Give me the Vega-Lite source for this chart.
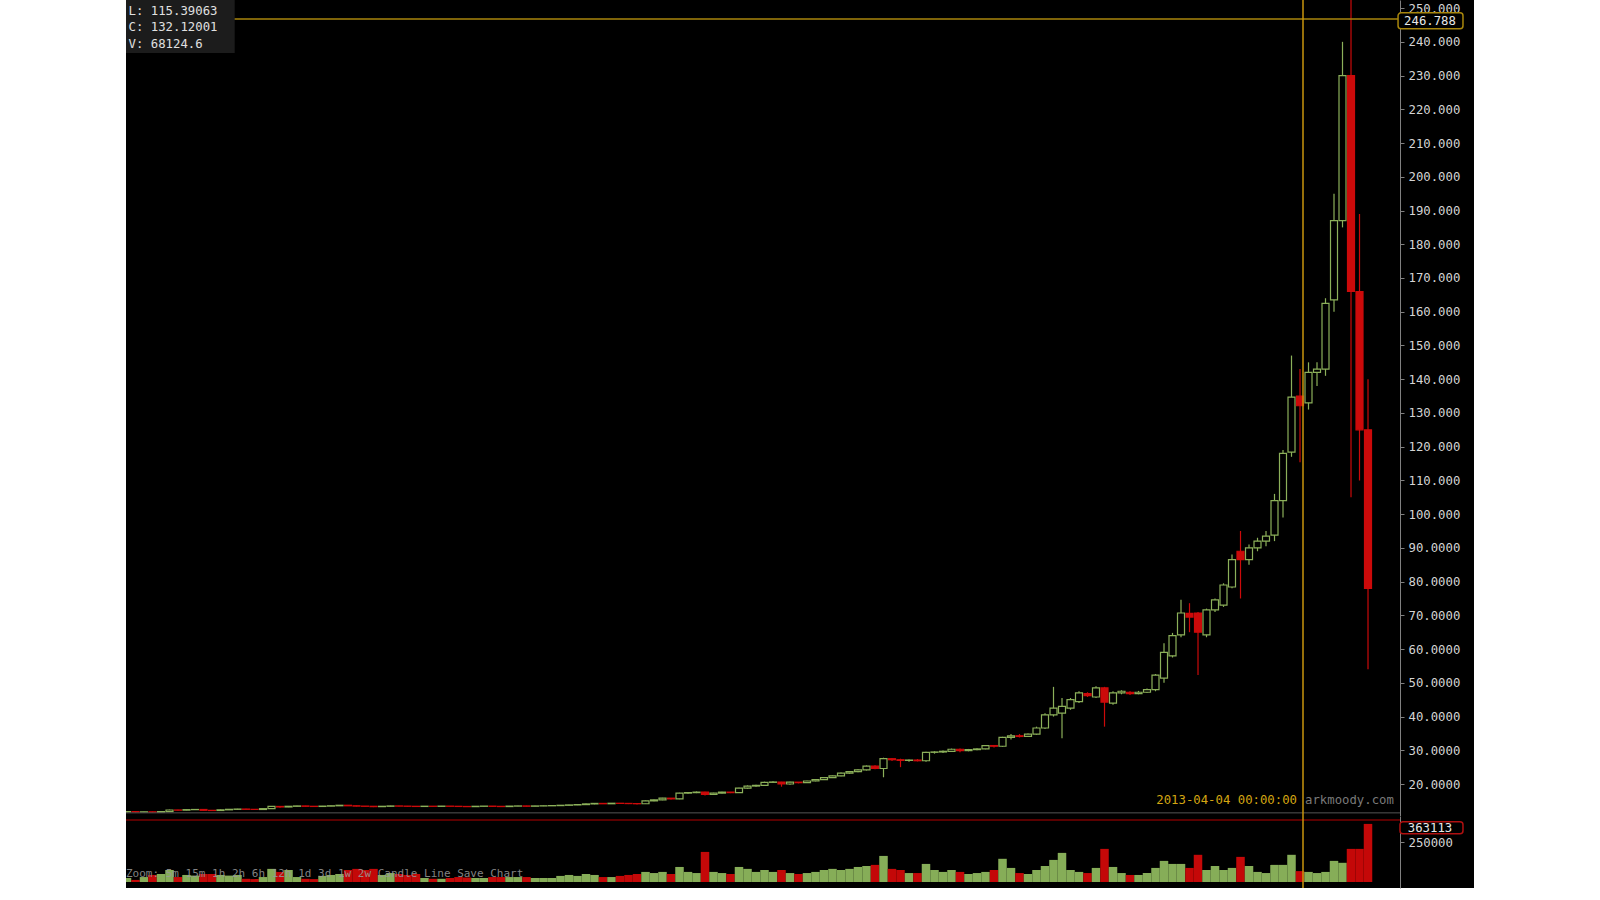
{
"$schema": "https://vega.github.io/schema/vega-lite/v6.json",
"background": "white",
"padding": {"left": 126, "right": 126, "top": 0, "bottom": 12},
"bounds": "flush",
"config": {"view": {"fill": "black", "stroke": null},
"axis": {"labelOverlap": false, "labelBound": false, "labelFlush": false, "grid": false, "title": null,
"labelFont": "DejaVu Sans Mono", "labelFontSize": 12.3, "labelColor": "#d4d4d4",
"domainColor": "#808080", "tickColor": "#808080", "tickSize": 4, "labelPadding": 4}},
"spacing": 0,
"datasets": {
"one": [{}],
"k": [
{"d":"2012-11-17","o":11.75,"h":11.85,"l":11.65,"c":11.80,"v":25000},
{"d":"2012-11-18","o":11.80,"h":11.85,"l":11.60,"c":11.70,"v":13000},
{"d":"2012-11-19","o":11.70,"h":11.80,"l":11.65,"c":11.76,"v":31000},
{"d":"2012-11-20","o":11.76,"h":11.80,"l":11.55,"c":11.68,"v":44000},
{"d":"2012-11-21","o":11.68,"h":11.85,"l":11.62,"c":11.80,"v":50000},
{"d":"2012-11-22","o":11.80,"h":12.40,"l":11.75,"c":12.30,"v":75000},
{"d":"2012-11-23","o":12.30,"h":12.40,"l":12.15,"c":12.25,"v":31000},
{"d":"2012-11-24","o":12.25,"h":12.45,"l":12.20,"c":12.40,"v":44000},
{"d":"2012-11-25","o":12.40,"h":12.50,"l":12.30,"c":12.45,"v":40000},
{"d":"2012-11-26","o":12.45,"h":12.50,"l":12.10,"c":12.20,"v":50000},
{"d":"2012-11-27","o":12.20,"h":12.30,"l":12.00,"c":12.15,"v":50000},
{"d":"2012-11-28","o":12.15,"h":12.45,"l":12.10,"c":12.35,"v":44000},
{"d":"2012-11-29","o":12.35,"h":12.55,"l":12.30,"c":12.50,"v":40000},
{"d":"2012-11-30","o":12.50,"h":12.65,"l":12.40,"c":12.58,"v":44000},
{"d":"2012-12-01","o":12.58,"h":12.65,"l":12.45,"c":12.50,"v":20000},
{"d":"2012-12-02","o":12.50,"h":12.55,"l":12.35,"c":12.45,"v":18000},
{"d":"2012-12-03","o":12.45,"h":12.75,"l":12.40,"c":12.70,"v":31000},
{"d":"2012-12-04","o":12.70,"h":13.45,"l":12.65,"c":13.35,"v":82000},
{"d":"2012-12-05","o":13.35,"h":13.40,"l":13.00,"c":13.20,"v":63000},
{"d":"2012-12-06","o":13.20,"h":13.45,"l":13.15,"c":13.40,"v":75000},
{"d":"2012-12-07","o":13.40,"h":13.55,"l":13.35,"c":13.50,"v":31000},
{"d":"2012-12-08","o":13.50,"h":13.55,"l":13.30,"c":13.40,"v":20000},
{"d":"2012-12-09","o":13.40,"h":13.45,"l":13.25,"c":13.35,"v":18000},
{"d":"2012-12-10","o":13.35,"h":13.50,"l":13.30,"c":13.45,"v":38000},
{"d":"2012-12-11","o":13.45,"h":13.60,"l":13.40,"c":13.55,"v":44000},
{"d":"2012-12-12","o":13.55,"h":13.75,"l":13.50,"c":13.70,"v":50000},
{"d":"2012-12-13","o":13.70,"h":13.72,"l":13.45,"c":13.55,"v":75000},
{"d":"2012-12-14","o":13.55,"h":13.60,"l":13.35,"c":13.45,"v":82000},
{"d":"2012-12-15","o":13.45,"h":13.50,"l":13.30,"c":13.40,"v":75000},
{"d":"2012-12-16","o":13.40,"h":13.45,"l":13.15,"c":13.30,"v":82000},
{"d":"2012-12-17","o":13.30,"h":13.45,"l":13.25,"c":13.40,"v":44000},
{"d":"2012-12-18","o":13.40,"h":13.55,"l":13.35,"c":13.50,"v":56000},
{"d":"2012-12-19","o":13.50,"h":13.55,"l":13.35,"c":13.45,"v":50000},
{"d":"2012-12-20","o":13.45,"h":13.50,"l":13.30,"c":13.40,"v":44000},
{"d":"2012-12-21","o":13.40,"h":13.45,"l":13.25,"c":13.35,"v":50000},
{"d":"2012-12-22","o":13.35,"h":13.45,"l":13.30,"c":13.42,"v":25000},
{"d":"2012-12-23","o":13.42,"h":13.45,"l":13.30,"c":13.38,"v":20000},
{"d":"2012-12-24","o":13.38,"h":13.50,"l":13.35,"c":13.45,"v":20000},
{"d":"2012-12-25","o":13.45,"h":13.48,"l":13.30,"c":13.40,"v":25000},
{"d":"2012-12-26","o":13.40,"h":13.42,"l":13.25,"c":13.35,"v":31000},
{"d":"2012-12-27","o":13.35,"h":13.40,"l":13.20,"c":13.30,"v":28000},
{"d":"2012-12-28","o":13.30,"h":13.45,"l":13.28,"c":13.40,"v":25000},
{"d":"2012-12-29","o":13.40,"h":13.50,"l":13.35,"c":13.45,"v":25000},
{"d":"2012-12-30","o":13.45,"h":13.48,"l":13.30,"c":13.38,"v":31000},
{"d":"2012-12-31","o":13.38,"h":13.42,"l":13.25,"c":13.32,"v":31000},
{"d":"2013-01-01","o":13.32,"h":13.50,"l":13.30,"c":13.45,"v":31000},
{"d":"2013-01-02","o":13.45,"h":13.55,"l":13.40,"c":13.50,"v":31000},
{"d":"2013-01-03","o":13.50,"h":13.55,"l":13.35,"c":13.42,"v":31000},
{"d":"2013-01-04","o":13.42,"h":13.55,"l":13.40,"c":13.50,"v":25000},
{"d":"2013-01-05","o":13.50,"h":13.60,"l":13.45,"c":13.55,"v":25000},
{"d":"2013-01-06","o":13.55,"h":13.65,"l":13.50,"c":13.60,"v":25000},
{"d":"2013-01-07","o":13.60,"h":13.75,"l":13.55,"c":13.70,"v":38000},
{"d":"2013-01-08","o":13.70,"h":13.85,"l":13.65,"c":13.80,"v":44000},
{"d":"2013-01-09","o":13.80,"h":13.95,"l":13.75,"c":13.90,"v":38000},
{"d":"2013-01-10","o":13.90,"h":14.20,"l":13.85,"c":14.10,"v":50000},
{"d":"2013-01-11","o":14.10,"h":14.30,"l":14.00,"c":14.25,"v":44000},
{"d":"2013-01-12","o":14.25,"h":14.30,"l":14.05,"c":14.15,"v":31000},
{"d":"2013-01-13","o":14.15,"h":14.35,"l":14.10,"c":14.30,"v":31000},
{"d":"2013-01-14","o":14.30,"h":14.40,"l":14.15,"c":14.25,"v":38000},
{"d":"2013-01-15","o":14.25,"h":14.30,"l":14.05,"c":14.20,"v":44000},
{"d":"2013-01-16","o":14.20,"h":14.25,"l":13.95,"c":14.15,"v":50000},
{"d":"2013-01-17","o":14.15,"h":15.10,"l":14.10,"c":15.00,"v":63000},
{"d":"2013-01-18","o":15.00,"h":15.40,"l":14.90,"c":15.30,"v":56000},
{"d":"2013-01-19","o":15.30,"h":15.90,"l":15.20,"c":15.80,"v":63000},
{"d":"2013-01-20","o":15.80,"h":15.85,"l":15.40,"c":15.60,"v":50000},
{"d":"2013-01-21","o":15.60,"h":17.40,"l":15.50,"c":17.30,"v":94000},
{"d":"2013-01-22","o":17.30,"h":17.60,"l":17.10,"c":17.45,"v":63000},
{"d":"2013-01-23","o":17.45,"h":17.80,"l":17.30,"c":17.60,"v":56000},
{"d":"2013-01-24","o":17.60,"h":17.70,"l":16.60,"c":16.90,"v":188000},
{"d":"2013-01-25","o":16.90,"h":17.40,"l":16.80,"c":17.30,"v":63000},
{"d":"2013-01-26","o":17.30,"h":17.70,"l":17.20,"c":17.60,"v":56000},
{"d":"2013-01-27","o":17.60,"h":17.65,"l":17.30,"c":17.45,"v":50000},
{"d":"2013-01-28","o":17.45,"h":18.90,"l":17.40,"c":18.80,"v":94000},
{"d":"2013-01-29","o":18.80,"h":19.60,"l":18.60,"c":19.40,"v":82000},
{"d":"2013-01-30","o":19.40,"h":19.80,"l":19.20,"c":19.60,"v":63000},
{"d":"2013-01-31","o":19.60,"h":20.70,"l":19.50,"c":20.50,"v":75000},
{"d":"2013-02-01","o":20.50,"h":20.80,"l":20.30,"c":20.60,"v":63000},
{"d":"2013-02-02","o":20.60,"h":20.65,"l":19.20,"c":20.00,"v":75000},
{"d":"2013-02-03","o":20.00,"h":20.70,"l":19.80,"c":20.55,"v":56000},
{"d":"2013-02-04","o":20.55,"h":20.60,"l":20.20,"c":20.40,"v":50000},
{"d":"2013-02-05","o":20.40,"h":21.00,"l":20.30,"c":20.90,"v":56000},
{"d":"2013-02-06","o":20.90,"h":21.40,"l":20.80,"c":21.30,"v":63000},
{"d":"2013-02-07","o":21.30,"h":22.00,"l":21.20,"c":21.90,"v":75000},
{"d":"2013-02-08","o":21.90,"h":22.50,"l":21.80,"c":22.40,"v":82000},
{"d":"2013-02-09","o":22.40,"h":23.40,"l":22.30,"c":23.20,"v":75000},
{"d":"2013-02-10","o":23.20,"h":23.80,"l":23.00,"c":23.70,"v":82000},
{"d":"2013-02-11","o":23.70,"h":24.40,"l":23.50,"c":24.20,"v":94000},
{"d":"2013-02-12","o":24.20,"h":25.50,"l":24.00,"c":25.30,"v":100000},
{"d":"2013-02-13","o":25.30,"h":25.60,"l":24.40,"c":24.60,"v":107000},
{"d":"2013-02-14","o":24.60,"h":27.80,"l":22.00,"c":27.50,"v":163000},
{"d":"2013-02-15","o":27.50,"h":27.70,"l":26.80,"c":27.20,"v":82000},
{"d":"2013-02-16","o":27.20,"h":27.50,"l":25.00,"c":27.00,"v":75000},
{"d":"2013-02-17","o":27.00,"h":27.30,"l":26.60,"c":27.10,"v":56000},
{"d":"2013-02-18","o":27.10,"h":27.40,"l":26.70,"c":26.90,"v":56000},
{"d":"2013-02-19","o":26.90,"h":29.60,"l":26.60,"c":29.40,"v":113000},
{"d":"2013-02-20","o":29.40,"h":29.70,"l":29.00,"c":29.50,"v":75000},
{"d":"2013-02-21","o":29.50,"h":29.90,"l":29.20,"c":29.70,"v":63000},
{"d":"2013-02-22","o":29.70,"h":30.50,"l":29.50,"c":30.30,"v":75000},
{"d":"2013-02-23","o":30.30,"h":30.50,"l":29.40,"c":29.90,"v":63000},
{"d":"2013-02-24","o":29.90,"h":30.40,"l":29.70,"c":30.20,"v":50000},
{"d":"2013-02-25","o":30.20,"h":30.60,"l":30.00,"c":30.40,"v":56000},
{"d":"2013-02-26","o":30.40,"h":31.50,"l":30.30,"c":31.40,"v":63000},
{"d":"2013-02-27","o":31.40,"h":31.60,"l":30.80,"c":31.20,"v":75000},
{"d":"2013-02-28","o":31.20,"h":34.00,"l":31.00,"c":33.80,"v":145000},
{"d":"2013-03-01","o":33.80,"h":34.80,"l":33.20,"c":34.30,"v":88000},
{"d":"2013-03-02","o":34.30,"h":34.80,"l":33.80,"c":34.10,"v":56000},
{"d":"2013-03-03","o":34.10,"h":35.00,"l":34.00,"c":34.80,"v":50000},
{"d":"2013-03-04","o":34.80,"h":37.00,"l":34.60,"c":36.60,"v":75000},
{"d":"2013-03-05","o":36.60,"h":41.00,"l":36.30,"c":40.50,"v":100000},
{"d":"2013-03-06","o":40.50,"h":48.80,"l":40.00,"c":42.50,"v":138000},
{"d":"2013-03-07","o":41.00,"h":45.50,"l":33.60,"c":43.00,"v":182000},
{"d":"2013-03-08","o":42.50,"h":45.50,"l":42.00,"c":45.00,"v":75000},
{"d":"2013-03-09","o":44.40,"h":47.50,"l":44.00,"c":47.00,"v":63000},
{"d":"2013-03-10","o":46.80,"h":47.20,"l":45.80,"c":46.20,"v":56000},
{"d":"2013-03-11","o":45.80,"h":49.00,"l":45.50,"c":48.50,"v":88000},
{"d":"2013-03-12","o":48.50,"h":48.80,"l":37.00,"c":44.30,"v":207000},
{"d":"2013-03-13","o":44.00,"h":47.50,"l":43.50,"c":47.00,"v":94000},
{"d":"2013-03-14","o":47.00,"h":47.80,"l":46.60,"c":47.50,"v":56000},
{"d":"2013-03-15","o":47.20,"h":47.50,"l":46.40,"c":46.80,"v":44000},
{"d":"2013-03-16","o":46.80,"h":47.60,"l":46.60,"c":47.20,"v":44000},
{"d":"2013-03-17","o":47.20,"h":48.30,"l":47.00,"c":48.00,"v":56000},
{"d":"2013-03-18","o":48.00,"h":52.60,"l":47.50,"c":52.30,"v":88000},
{"d":"2013-03-19","o":51.40,"h":61.70,"l":50.00,"c":59.00,"v":132000},
{"d":"2013-03-20","o":58.00,"h":64.80,"l":57.50,"c":64.00,"v":113000},
{"d":"2013-03-21","o":64.20,"h":74.60,"l":63.50,"c":70.70,"v":113000},
{"d":"2013-03-22","o":70.60,"h":73.60,"l":65.00,"c":69.50,"v":88000},
{"d":"2013-03-23","o":70.70,"h":71.00,"l":52.30,"c":65.00,"v":170000},
{"d":"2013-03-24","o":64.20,"h":72.00,"l":63.50,"c":71.60,"v":75000},
{"d":"2013-03-25","o":71.60,"h":75.00,"l":71.00,"c":74.60,"v":100000},
{"d":"2013-03-26","o":73.00,"h":79.50,"l":72.50,"c":79.00,"v":75000},
{"d":"2013-03-27","o":78.40,"h":88.00,"l":78.00,"c":86.50,"v":88000},
{"d":"2013-03-28","o":89.00,"h":95.00,"l":75.00,"c":86.50,"v":157000},
{"d":"2013-03-29","o":86.50,"h":91.00,"l":85.00,"c":90.00,"v":100000},
{"d":"2013-03-30","o":90.00,"h":93.00,"l":89.00,"c":92.00,"v":63000},
{"d":"2013-03-31","o":92.00,"h":95.00,"l":90.50,"c":93.50,"v":56000},
{"d":"2013-04-01","o":93.80,"h":106.00,"l":92.00,"c":104.00,"v":107000},
{"d":"2013-04-02","o":104.00,"h":119.00,"l":99.00,"c":118.00,"v":107000},
{"d":"2013-04-03","o":118.40,"h":147.00,"l":117.00,"c":134.70,"v":170000},
{"d":"2013-04-04","o":135.00,"h":143.00,"l":115.39063,"c":132.12001,"v":68124.6},
{"d":"2013-04-05","o":133.00,"h":145.00,"l":131.00,"c":142.00,"v":63000},
{"d":"2013-04-06","o":142.00,"h":145.00,"l":138.00,"c":143.00,"v":56000},
{"d":"2013-04-07","o":143.00,"h":164.00,"l":141.00,"c":162.50,"v":63000},
{"d":"2013-04-08","o":163.50,"h":195.00,"l":160.00,"c":187.00,"v":132000},
{"d":"2013-04-09","o":187.00,"h":240.00,"l":185.00,"c":230.00,"v":120000},
{"d":"2013-04-10","o":230.00,"h":266.00,"l":105.00,"c":166.00,"v":207000},
{"d":"2013-04-11","o":166.00,"h":189.00,"l":110.00,"c":125.00,"v":207000},
{"d":"2013-04-12","o":125.00,"h":140.00,"l":54.00,"c":78.00,"v":363113}
]
},
"vconcat": [
{
"width": 1348,
"height": 816,
"resolve": {"axis": {"y": "independent", "x": "independent"}},
"layer": [
{
"data": {"name": "k"},
"mark": {"type": "rule", "clip": true, "strokeWidth": 1.2},
"encoding": {
"x": {"field": "d", "type": "temporal", "axis": null,
"scale": {"padding": 0, "domain": [{"year": 2012, "month": 11, "date": 16, "hours": 21, "minutes": 10, "utc": true}, {"year": 2013, "month": 4, "date": 24, "hours": 11, "minutes": 17, "utc": true}]}},
"y": {"field": "l", "type": "quantitative", "title": null,
"scale": {"domain": [10.52, 252.4], "nice": false, "zero": false},
"axis": {"orient": "right", "offset": -74, "title": null,
"values": [20,30,40,50,60,70,80,90,100,110,120,130,140,150,160,170,180,190,200,210,220,230,240,250],
"labelExpr": "datum.value >= 100 ? format(datum.value, '.3f') : format(datum.value, '.4f')",
"labelOverlap": false}},
"y2": {"field": "h"},
"color": {"condition": {"test": "datum.c >= datum.o", "value": "#8cb05a"}, "value": "#cc0a0a"}
}
},
{
"data": {"name": "k"},
"mark": {"type": "bar", "clip": true, "width": 7, "strokeWidth": 1.2},
"encoding": {
"x": {"field": "d", "type": "temporal", "axis": null},
"y": {"field": "o", "type": "quantitative", "axis": null},
"y2": {"field": "c"},
"fill": {"condition": {"test": "datum.c >= datum.o", "value": "#000000"}, "value": "#cc0a0a"},
"stroke": {"condition": {"test": "datum.c >= datum.o", "value": "#8cb05a"}, "value": "#cc0a0a"}
}
},
{
"data": {"name": "one"},
"mark": {"type": "rule", "color": "#555555", "strokeWidth": 1, "clip": true},
"encoding": {
"y": {"datum": 11.45, "axis": null},
"x": {"datum": {"year": 2012, "month": 11, "date": 16, "hours": 21, "minutes": 10, "utc": true}, "axis": null},
"x2": {"datum": {"year": 2013, "month": 4, "date": 15, "hours": 18, "minutes": 20, "utc": true}}
}
},
{
"data": {"name": "one"},
"mark": {"type": "rule", "color": "#a8860c", "strokeWidth": 1.5, "clip": true},
"encoding": {
"y": {"datum": 246.788, "axis": null},
"x": {"datum": {"year": 2012, "month": 11, "date": 16, "hours": 21, "minutes": 10, "utc": true}, "axis": null},
"x2": {"datum": {"year": 2013, "month": 4, "date": 15, "hours": 18, "minutes": 20, "utc": true}}
}
},
{
"data": {"name": "one"},
"mark": {"type": "rule", "color": "#c8940c", "strokeWidth": 1.5, "clip": true},
"encoding": {
"x": {"datum": {"year": 2013, "month": 4, "date": 4, "hours": 8, "minutes": 28, "utc": true}, "axis": null}
}
},
{
"data": {"name": "one"},
"mark": {"type": "rect", "fill": "#1c1c1c", "clip": true},
"encoding": {
"x": {"datum": {"year": 2012, "month": 11, "date": 16, "hours": 21, "minutes": 10, "utc": true}, "axis": null},
"x2": {"datum": {"year": 2012, "month": 11, "date": 29, "hours": 16, "minutes": 5, "utc": true}},
"y": {"datum": 252.4, "axis": null},
"y2": {"datum": 236.7}
}
},
{
"data": {"values": [{"t": "L: 115.39063", "p": 249.2}, {"t": "C: 132.12001", "p": 244.3}, {"t": "V: 68124.6", "p": 239.4}]},
"mark": {"type": "text", "align": "left", "baseline": "middle", "font": "DejaVu Sans Mono", "fontSize": 12.3, "color": "#e0e0e0"},
"encoding": {
"x": {"datum": {"year": 2012, "month": 11, "date": 17, "hours": 4, "minutes": 30, "utc": true}, "axis": null},
"y": {"field": "p", "type": "quantitative", "axis": null},
"text": {"field": "t"}
}
},
{
"data": {"name": "one"},
"mark": {"type": "rect", "fill": "#000000", "stroke": "#a8860c", "strokeWidth": 1.5, "cornerRadius": 3},
"encoding": {
"x": {"datum": {"year": 2013, "month": 4, "date": 15, "hours": 12, "minutes": 50, "utc": true}, "axis": null},
"x2": {"datum": {"year": 2013, "month": 4, "date": 23, "hours": 4, "minutes": 10, "utc": true}},
"y": {"datum": 248.6, "axis": null},
"y2": {"datum": 243.85}
}
},
{
"data": {"name": "one"},
"mark": {"type": "text", "align": "center", "baseline": "middle", "font": "DejaVu Sans Mono", "fontSize": 12.3, "color": "#e8e8e8", "text": "246.788"},
"encoding": {
"x": {"datum": {"year": 2013, "month": 4, "date": 19, "hours": 7, "minutes": 0, "utc": true}, "axis": null},
"y": {"datum": 246.2, "axis": null}
}
},
{
"data": {"name": "one"},
"mark": {"type": "text", "align": "left", "baseline": "middle", "font": "DejaVu Sans Mono", "fontSize": 12.3, "color": "#7a7a7a", "text": "arkmoody.com"},
"encoding": {
"x": {"datum": {"year": 2013, "month": 4, "date": 4, "hours": 14, "minutes": 10, "utc": true}, "axis": null},
"y": {"datum": 15.27, "axis": null}
}
},
{
"data": {"name": "one"},
"mark": {"type": "text", "align": "right", "baseline": "middle", "font": "DejaVu Sans Mono", "fontSize": 12.3, "color": "#d4a612", "text": "2013-04-04 00:00:00"},
"encoding": {
"x": {"datum": {"year": 2013, "month": 4, "date": 3, "hours": 15, "minutes": 25, "utc": true}, "axis": null},
"y": {"datum": 15.27, "axis": null}
}
}
]
},
{
"width": 1348,
"height": 72,
"resolve": {"axis": {"y": "independent", "x": "independent"}},
"layer": [
{
"data": {"name": "k"},
"mark": {"type": "bar", "clip": true, "width": 8.5},
"encoding": {
"x": {"field": "d", "type": "temporal", "axis": null,
"scale": {"padding": 0, "domain": [{"year": 2012, "month": 11, "date": 16, "hours": 21, "minutes": 10, "utc": true}, {"year": 2013, "month": 4, "date": 24, "hours": 11, "minutes": 17, "utc": true}]}},
"y": {"field": "v", "type": "quantitative", "title": null,
"scale": {"domain": [-37500, 412500], "nice": false, "zero": false},
"axis": {"orient": "right", "offset": -74, "title": null, "values": [250000], "format": "d", "labelOverlap": false}},
"color": {"condition": {"test": "datum.c >= datum.o", "value": "#86ad58"}, "value": "#c40808"}
}
},
{
"data": {"name": "one"},
"mark": {"type": "text", "align": "left", "baseline": "middle", "font": "DejaVu Sans Mono", "fontSize": 11, "color": "#9a9a9a", "opacity": 0.85, "text": "Zoom: 5m 15m 1h 2h 6h 12h 1d 3d 1w 2w  Candle Line  Save Chart"},
"encoding": {
"x": {"datum": {"year": 2012, "month": 11, "date": 16, "hours": 21, "minutes": 10, "utc": true}, "axis": null},
"y": {"datum": 50000, "axis": null}
}
},
{
"data": {"name": "one"},
"mark": {"type": "rule", "color": "#5a0000", "strokeWidth": 2, "clip": true},
"encoding": {
"y": {"datum": 387500, "axis": null},
"x": {"datum": {"year": 2012, "month": 11, "date": 16, "hours": 21, "minutes": 10, "utc": true}, "axis": null},
"x2": {"datum": {"year": 2013, "month": 4, "date": 15, "hours": 18, "minutes": 20, "utc": true}}
}
},
{
"data": {"name": "one"},
"mark": {"type": "rule", "color": "#c8940c", "strokeWidth": 1.5, "clip": true},
"encoding": {
"x": {"datum": {"year": 2013, "month": 4, "date": 4, "hours": 8, "minutes": 28, "utc": true}, "axis": null}
}
},
{
"data": {"name": "one"},
"mark": {"type": "rect", "fill": "#000000", "stroke": "#b01010", "strokeWidth": 1.5, "cornerRadius": 3},
"encoding": {
"x": {"datum": {"year": 2013, "month": 4, "date": 15, "hours": 18, "minutes": 20, "utc": true}, "axis": null},
"x2": {"datum": {"year": 2013, "month": 4, "date": 23, "hours": 4, "minutes": 10, "utc": true}},
"y": {"datum": 377000, "axis": null},
"y2": {"datum": 301600}
}
},
{
"data": {"name": "one"},
"mark": {"type": "text", "align": "center", "baseline": "middle", "font": "DejaVu Sans Mono", "fontSize": 12.3, "color": "#e8e8e8", "text": "363113"},
"encoding": {
"x": {"datum": {"year": 2013, "month": 4, "date": 19, "hours": 7, "minutes": 0, "utc": true}, "axis": null},
"y": {"datum": 340000, "axis": null}
}
}
]
}
]
}
